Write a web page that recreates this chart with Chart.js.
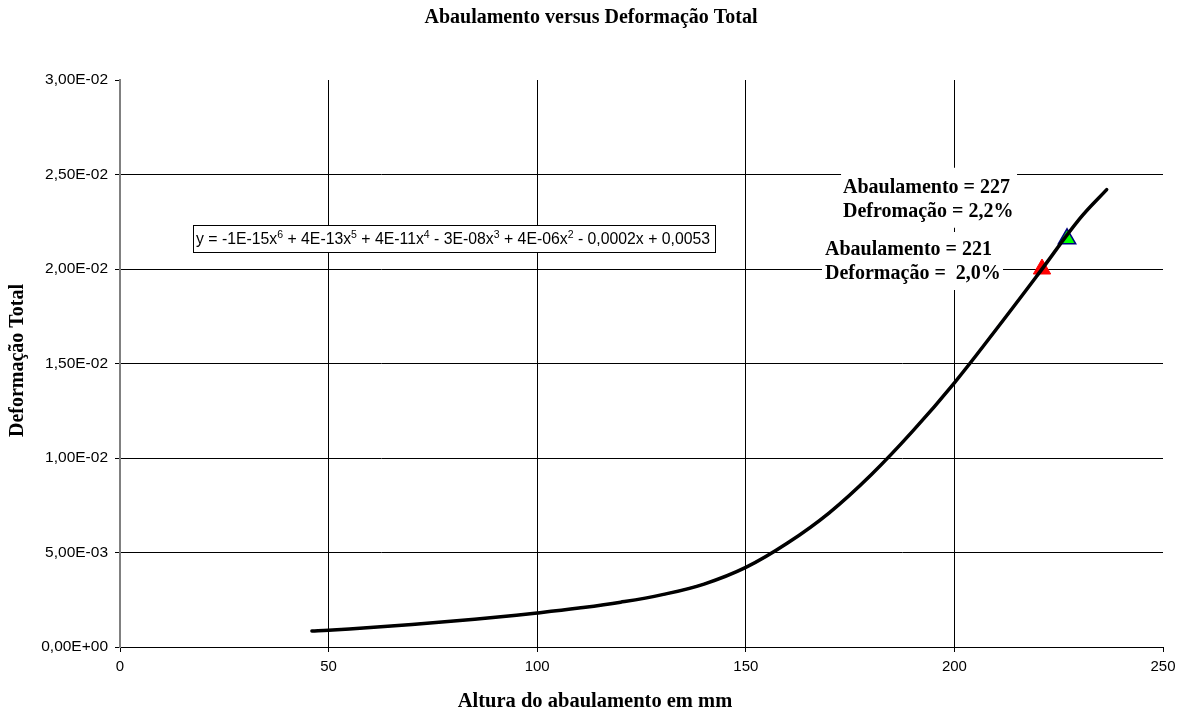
<!DOCTYPE html>
<html>
<head>
<meta charset="utf-8">
<script src="https://cdn.jsdelivr.net/npm/chart.js@4.4.1/dist/chart.umd.min.js"></script>
<style>
  html, body { margin: 0; padding: 0; background: #fff; }
  #wrap { width: 1186px; height: 713px; position: relative; }
</style>
</head>
<body>
<div id="wrap"><canvas id="c" width="1186" height="713"></canvas></div>
<script>
// Texts
const chartTitle = 'Abaulamento versus Deformação Total';
const xAxisTitle = 'Altura do abaulamento em mm';
const yAxisTitle = 'Deformação Total';

// Measured series: bulge height (mm) vs. total strain
const alturaMm = [46, 50, 60, 70, 80, 90, 100, 110, 120, 130, 140, 150, 160, 170, 180, 190, 200, 210, 220, 230, 236.5];
const deformacao = [0.00085, 0.00089, 0.00103, 0.00119, 0.00137, 0.00157, 0.00180, 0.00206, 0.00237, 0.00277, 0.00333, 0.00421, 0.00550, 0.00710, 0.00910, 0.01142, 0.01398, 0.01680, 0.01970, 0.02265, 0.02420];

// Highlighted points
const marcoAltura = [221, 227];
const marcoDeformacao = [0.0200, 0.0216];
const marcoNomeDeform = ['Deformação =  ', 'Defromação = '];

// Axis ticks
const xTicks = [0, 50, 100, 150, 200, 250];
const yTicks = [0, 0.005, 0.01, 0.015, 0.02, 0.025, 0.03];

// Polynomial trend equation (text pieces; 'sup' = exponent)
const trendEquation = [
  ['y = -1E-15x', ''], ['6', 'sup'],
  [' + 4E-13x', ''], ['5', 'sup'],
  [' + 4E-11x', ''], ['4', 'sup'],
  [' - 3E-08x', ''], ['3', 'sup'],
  [' + 4E-06x', ''], ['2', 'sup'],
  [' - 0,0002x + 0,0053', '']
];

const SANS = '"Liberation Sans", Arial, sans-serif';
const SERIF = '"Liberation Serif", "Times New Roman", serif';

function fmtSci(v) {
  if (Math.abs(v) < 1e-12) return '0,00E+00';
  const [m, e] = v.toExponential(2).split('e');
  const n = parseInt(e, 10);
  return m.replace('.', ',') + 'E' + (n < 0 ? '-' : '+') + String(Math.abs(n)).padStart(2, '0');
}
function pct(v) {
  return (v * 100).toFixed(1).replace('.', ',') + '%';
}

const pts = (xs, ys) => xs.map((x, i) => ({ x, y: ys[i] }));

const decorPlugin = {
  id: 'decor',
  beforeDatasetsDraw(chart) {
    const ctx = chart.ctx;
    const xs = chart.scales.x, ys = chart.scales.y;
    const area = chart.chartArea;
    ctx.save();

    // Trend equation box
    const bx = area.left + 73, by = area.top + 145, bw = 522, bh = 27;
    ctx.fillStyle = '#fff';
    ctx.fillRect(bx, by, bw, bh);
    ctx.strokeStyle = '#000';
    ctx.lineWidth = 1;
    ctx.strokeRect(bx + 0.5, by + 0.5, bw, bh);
    let tx = bx + 3;
    const base = by + 19;
    ctx.fillStyle = '#000';
    ctx.textBaseline = 'alphabetic';
    ctx.textAlign = 'left';
    trendEquation.forEach(([t, kind]) => {
      if (kind === 'sup') {
        ctx.font = '10.5px ' + SANS;
        ctx.fillText(t, tx, base - 6.5);
      } else {
        ctx.font = '15.8px ' + SANS;
        ctx.fillText(t, tx, base);
      }
      tx += ctx.measureText(t).width;
    });

    // Point annotations
    ctx.font = 'bold 20px ' + SERIF;
    // green point (index 1)
    {
      const px = xs.getPixelForValue(marcoAltura[1]);
      const py = ys.getPixelForValue(marcoDeformacao[1]);
      ctx.fillStyle = '#fff';
      ctx.fillRect(px - 226, py - 71, 176, 60);
      ctx.fillStyle = '#000';
      ctx.fillText('Abaulamento = ' + marcoAltura[1], px - 224, py - 46);
      ctx.fillText(marcoNomeDeform[1] + pct(marcoDeformacao[1]), px - 224, py - 22);
    }
    // red point (index 0)
    {
      const px = xs.getPixelForValue(marcoAltura[0]);
      const py = ys.getPixelForValue(marcoDeformacao[0]);
      ctx.fillStyle = '#fff';
      ctx.fillRect(px - 220, py - 37, 181, 58);
      ctx.fillStyle = '#000';
      ctx.fillText('Abaulamento = ' + marcoAltura[0], px - 217, py - 14);
      ctx.fillText(marcoNomeDeform[0] + pct(marcoDeformacao[0]), px - 217, py + 10);
    }
    ctx.restore();
  },
  afterDraw(chart) {
    const ctx = chart.ctx;
    const area = chart.chartArea;
    ctx.save();
    ctx.fillStyle = '#000';
    ctx.textAlign = 'center';
    ctx.textBaseline = 'middle';
    ctx.font = 'bold 20px ' + SERIF;
    ctx.fillText(chartTitle, chart.width / 2 - 2, 18);
    ctx.font = 'bold 20.5px ' + SERIF;
    ctx.fillText(xAxisTitle, chart.width / 2 + 2, 702);
    ctx.font = 'bold 20px ' + SERIF;
    ctx.translate(18, (area.top + area.bottom) / 2 - 3);
    ctx.rotate(-Math.PI / 2);
    ctx.fillText(yAxisTitle, 0, 0);
    ctx.restore();
  }
};

new Chart(document.getElementById('c'), {
  type: 'scatter',
  data: {
    datasets: [
      {
        label: 'Polinômio',
        data: pts(alturaMm, deformacao),
        showLine: true,
        borderColor: '#000',
        borderWidth: 3.5,
        borderCapStyle: 'round',
        pointRadius: 0,
        tension: 0.4,
        order: 0
      },
      {
        label: '227',
        data: [{ x: marcoAltura[1], y: marcoDeformacao[1] }],
        pointStyle: 'triangle',
        pointRadius: 10,
        backgroundColor: '#00ff00',
        borderColor: '#000080',
        borderWidth: 1.5,
        order: 1
      },
      {
        label: '221',
        data: [{ x: marcoAltura[0], y: marcoDeformacao[0] }],
        pointStyle: 'triangle',
        pointRadius: 10,
        backgroundColor: '#ff0000',
        borderColor: '#ff0000',
        borderWidth: 1,
        order: 2
      },
      {
        label: 'Deformação',
        data: pts(alturaMm, deformacao),
        showLine: true,
        borderColor: '#000080',
        borderWidth: 2,
        pointRadius: 0,
        tension: 0.4,
        order: 3
      }
    ]
  },
  options: {
    responsive: false,
    animation: false,
    devicePixelRatio: 1,
    layout: { padding: { left: 0, right: 23, top: 80, bottom: 0 } },
    plugins: { legend: { display: false }, tooltip: { enabled: false }, title: { display: false } },
    scales: {
      x: {
        type: 'linear',
        min: 0, max: 250,
        afterBuildTicks: s => { s.ticks = xTicks.map(v => ({ value: v })); },
        afterFit: s => { s.height = 66; },
        grid: {
          color: c => (c.tick && c.tick.value === 250) ? 'rgba(0,0,0,0)' : '#000',
          tickColor: '#000',
          tickLength: 5,
          lineWidth: 1
        },
        border: { color: '#000', width: 1 },
        ticks: {
          color: '#000',
          font: { family: SANS, size: 15 },
          padding: 6,
          maxRotation: 0,
          callback: v => String(v)
        }
      },
      y: {
        type: 'linear',
        min: 0, max: 0.03,
        afterBuildTicks: s => { s.ticks = yTicks.map(v => ({ value: v })); },
        afterFit: s => { s.width = 120; },
        grid: {
          color: c => (c.tick && c.tick.value >= 0.0299) ? 'rgba(0,0,0,0)' : '#000',
          tickColor: '#000',
          tickLength: 5,
          lineWidth: 1
        },
        border: { color: '#808080', width: 2 },
        ticks: {
          color: '#000',
          font: { family: SANS, size: 15.5 },
          padding: 7,
          callback: v => fmtSci(v)
        }
      }
    }
  },
  plugins: [decorPlugin]
});
</script>
</body>
</html>
